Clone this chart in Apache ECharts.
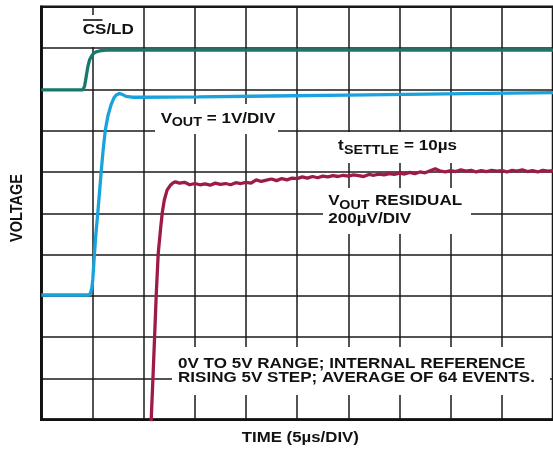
<!DOCTYPE html>
<html>
<head>
<meta charset="utf-8">
<script src="https://cdn.jsdelivr.net/npm/echarts@6/dist/echarts.min.js"></script>
<style>
  html, body { margin: 0; padding: 0; background: #fff; }
  #chart { width: 553px; height: 453px; }
</style>
</head>
<body>
<div id="chart"></div>
<script>
// ---- Data (x in µs, 5 µs/DIV; y in screen divisions, 0 = bottom, 10 = top) ----
const xAxisMinUs = 0;
const xAxisMaxUs = 50;
const xIntervalUs = 5;
const yAxisMinDiv = 0;
const yAxisMaxDiv = 10;

// CS/LD trace
const csldTime  = [0, 4.07, 4.23, 4.33, 4.44, 4.55, 4.71, 4.88, 5.10, 5.36, 5.68, 6.33, 8.59, 50];
const csldLevel = [7.99, 7.99, 8.08, 8.22, 8.39, 8.55, 8.71, 8.79, 8.87, 8.91, 8.93, 8.95, 8.95, 8.95];

// VOUT trace (1V/DIV)
const voutTime  = [0, 4.67, 4.81, 4.94, 5.03, 5.20, 5.34, 5.52, 5.68, 5.85, 6.04, 6.26, 6.51, 6.82, 7.09, 7.30, 7.62, 7.91, 8.27, 8.88, 9.55, 15.36, 22.43, 29.88, 39.56, 50];
const voutLevel = [3.02, 3.02, 3.07, 3.19, 3.39, 4.04, 4.52, 5.01, 5.49, 6.00, 6.53, 7.02, 7.36, 7.63, 7.79, 7.86, 7.90, 7.88, 7.83, 7.81, 7.81, 7.82, 7.84, 7.86, 7.89, 7.92];

// VOUT residual trace (200µV/DIV)
const residualTime = [10.73, 10.91, 11.07, 11.23, 11.42, 11.66, 11.83, 12.02, 12.29, 12.62, 12.85, 13.11,
  13.5, 14.0, 14.5, 15.0, 15.5, 16.0, 16.5, 17.0, 17.5, 18.0, 18.5, 19.0, 19.5, 20.0, 20.5, 21.0, 21.5, 22.0,
  22.5, 23.0, 23.5, 24.0, 24.5, 25.0, 25.5, 26.0, 26.5, 27.0, 27.5, 28.0, 28.5, 29.0, 29.5, 30.0, 30.5, 31.0,
  31.5, 32.0, 32.5, 33.0, 33.5, 34.0, 34.5, 35.0, 35.5, 36.0, 36.5, 37.0, 37.5, 38.0, 38.5, 39.0, 39.5, 40.0,
  40.5, 41.0, 41.5, 42.0, 42.5, 43.0, 43.5, 44.0, 44.5, 45.0, 45.5, 46.0, 46.5, 47.0, 47.5, 48.0, 48.5, 49.0,
  49.5, 50.0];
const residualLevel = [-0.05, 1.01, 2.00, 3.02, 4.01, 4.64, 5.03, 5.32, 5.56, 5.68, 5.73, 5.76,
  5.73, 5.75, 5.69, 5.72, 5.69, 5.71, 5.68, 5.73, 5.70, 5.72, 5.69, 5.74, 5.72, 5.75, 5.73, 5.81, 5.77, 5.80,
  5.83, 5.79, 5.84, 5.81, 5.85, 5.84, 5.88, 5.85, 5.89, 5.86, 5.90, 5.88, 5.91, 5.89, 5.92, 5.90, 5.93, 5.91,
  5.89, 5.94, 5.92, 5.95, 5.93, 5.96, 5.94, 5.97, 5.95, 5.99, 5.96, 6.00, 5.98, 6.03, 6.08, 6.02, 6.00, 6.03,
  6.01, 6.05, 6.02, 6.04, 6.00, 6.03, 6.01, 6.04, 6.02, 6.03, 6.00, 6.04, 6.02, 6.05, 6.01, 6.03, 6.00, 6.04,
  6.02, 6.03];

// ---- Styling / layout ----
const FONT_FAMILY = '"Liberation Sans", Arial, Helvetica, sans-serif';
const TEXT_COLOR = '#111';
const STRETCH = 1.1;

function pairs(xs, ys) { return xs.map((x, i) => [x, ys[i]]); }

function txt(str, x, y, size, extra) {
  return Object.assign({
    type: 'text', x: x, y: y, z: 10, scaleX: STRETCH,
    style: {
      text: str, x: 0, y: 0,
      font: 'bold ' + size + 'px ' + FONT_FAMILY,
      fill: TEXT_COLOR,
      textAlign: 'left', align: 'left',
      textVerticalAlign: 'middle', verticalAlign: 'middle'
    }
  }, extra || {});
}
function box(x, y, w, h) {
  return { type: 'rect', z: 1, shape: { x: x, y: y, width: w, height: h }, style: { fill: '#fff' }, silent: true };
}

const chart = echarts.init(document.getElementById('chart'), null, { renderer: 'canvas' });

const gridLine = { show: true, lineStyle: { color: '#1a1a1a', width: 1.5 } };
const frameLine = { show: true, lineStyle: { color: '#111', width: 2.5 } };

chart.setOption({
  animation: false,
  backgroundColor: '#fff',
  grid: { left: 41.3, top: 6.8, width: 516.5, height: 412.9, show: true, borderColor: '#111', borderWidth: 2.5, backgroundColor: 'transparent' },
  xAxis: {
    type: 'value', min: xAxisMinUs, max: xAxisMaxUs, interval: xIntervalUs,
    axisLine: frameLine, axisTick: { show: false }, axisLabel: { show: false }, splitLine: gridLine
  },
  yAxis: {
    type: 'value', min: yAxisMinDiv, max: yAxisMaxDiv, interval: 1,
    axisLine: frameLine, axisTick: { show: false }, axisLabel: { show: false }, splitLine: gridLine
  },
  series: [
    { name: 'CS/LD', type: 'line', data: pairs(csldTime, csldLevel), showSymbol: false, z: 3,
      lineStyle: { color: '#157a6b', width: 3.3 } },
    { name: 'VOUT', type: 'line', data: pairs(voutTime, voutLevel), showSymbol: false, z: 3,
      lineStyle: { color: '#1aa2dc', width: 3.3 } },
    { name: 'VOUT RESIDUAL', type: 'line', data: pairs(residualTime, residualLevel), showSymbol: false, z: 3,
      lineStyle: { color: '#9e1b48', width: 3.3 } }
  ],
  graphic: {
    elements: [
      // white label boxes that interrupt grid lines
      box(78, 15, 60, 32),
      box(155, 104, 123, 30),
      box(330, 132, 136, 31),
      box(323, 188, 148, 46),
      box(172, 347, 378, 48),
      // CS/LD with overline
      txt('CS/LD', 82.7, 30, 15.5),
      { type: 'line', z: 10, shape: { x1: 83, y1: 20, x2: 102.5, y2: 20 }, style: { stroke: TEXT_COLOR, lineWidth: 1.6 } },
      // VOUT = 1V/DIV
      txt('V', 160.7, 118.3, 15.5),
      txt('OUT', 171.7, 122.3, 13),
      txt('= 1V/DIV', 206.7, 118.3, 15.5),
      // tSETTLE = 10µs
      txt('t', 338, 146, 15.5),
      txt('SETTLE', 344, 150.8, 13),
      txt('= 10µs', 404, 146, 15.5),
      // VOUT RESIDUAL 200µV/DIV
      txt('V', 328.3, 200.9, 15.5),
      txt('OUT', 339.3, 205.5, 13),
      txt('RESIDUAL', 375, 200.9, 15.5),
      txt('200µV/DIV', 328.3, 218.8, 15.5),
      // note
      txt('0V TO 5V RANGE; INTERNAL REFERENCE', 178, 363.8, 15.5),
      txt('RISING 5V STEP; AVERAGE OF 64 EVENTS.', 178, 377.5, 15.5),
      // axis titles
      txt('TIME (5µs/DIV)', 241.7, 437.5, 15.3),
      { type: 'text', x: 17.5, y: 208, z: 10, rotation: Math.PI / 2, scaleY: STRETCH,
        style: { text: 'VOLTAGE', x: 0, y: 0, font: 'bold 14.5px ' + FONT_FAMILY, fill: TEXT_COLOR,
          textAlign: 'center', align: 'center', textVerticalAlign: 'middle', verticalAlign: 'middle' } }
    ]
  }
});
</script>
</body>
</html>
